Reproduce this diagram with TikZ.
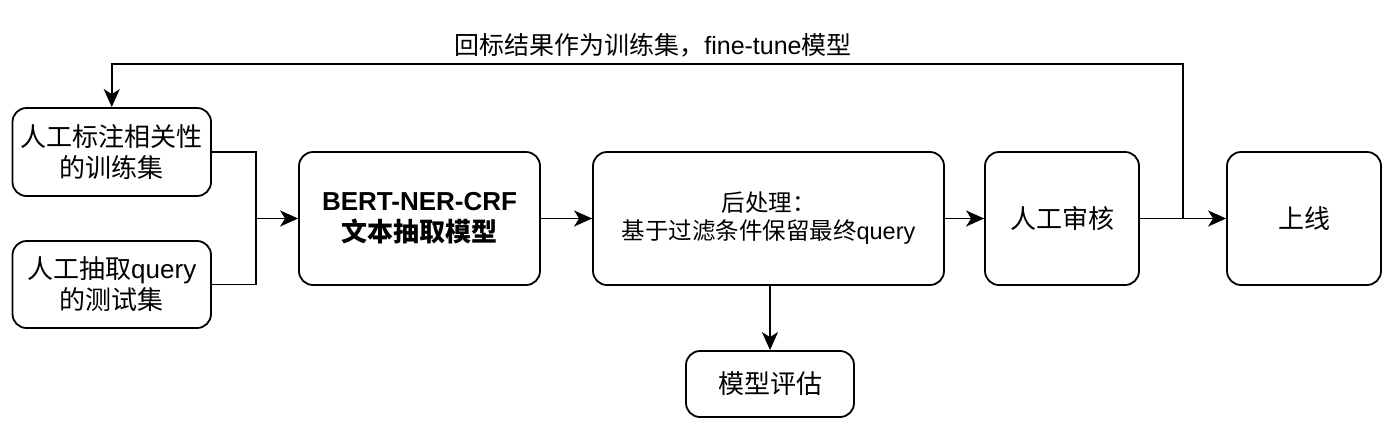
\documentclass[tikz,border=0pt]{standalone}
\usepackage{fontspec}
\setmainfont{Noto Sans CJK SC}
\newfontfamily\lat{Liberation Sans}
\usetikzlibrary{arrows.meta}
\begin{document}
\begin{tikzpicture}[x=1pt,y=-1pt,
  box/.style={draw, line width=1.8pt, rounded corners=14pt, align=center, inner sep=0pt,
    font=\fontsize{26}{31}\selectfont},
  conn/.style={line width=1.8pt},
  arr/.style={line width=1.8pt, -{Stealth[length=18pt,width=16pt,inset=5pt]}}]
\useasboundingbox (0,0) rectangle (1398,440);
\node[box, minimum width=198.5pt, minimum height=88pt] (A) at (111.75,152) {人工标注相关性\\的训练集};
\node[box, minimum width=198.5pt, minimum height=87pt] (B) at (111.75,284.5) {人工抽取{\lat query}\\的测试集};
\node[box, minimum width=241pt, minimum height=133pt, font=\fontsize{26}{31}\selectfont\bfseries] (C) at (419.5,218.5) {{\lat\bfseries BERT-NER-CRF}\\文本抽取模型};
\node[box, minimum width=351pt, minimum height=133pt, font=\fontsize{23.5}{28}\selectfont] (D) at (768.5,218.5) {后处理：\\基于过滤条件保留最终{\lat query}};
\node[box, minimum width=154pt, minimum height=133pt] (E) at (1062,218.5) {人工审核};
\node[box, minimum width=154pt, minimum height=133pt] (F) at (1304,218.5) {上线};
\node[box, minimum width=168pt, minimum height=66pt] (G) at (770,384) {模型评估};
\node[font=\fontsize{25}{30}\selectfont, inner sep=0pt] (L) at (653,45) {回标结果作为训练集，{\lat fine-tune}模型};
\coordinate (J) at (256,218.5);
\coordinate (K) at (1183,218.5);
\coordinate (T) at (111.75,64);
\draw[conn] (A.east) -| (J);
\draw[conn] (B.east) -| (J);
\draw[arr] (J) -- (C.west);
\draw[arr] (C) -- (D);
\draw[arr] (D) -- (E);
\draw[arr] (E) -- (F);
\draw[arr] (K) |- (T) -- (A.north);
\draw[arr] (D.south -| G.north) -- (G.north);
\end{tikzpicture}
\end{document}
